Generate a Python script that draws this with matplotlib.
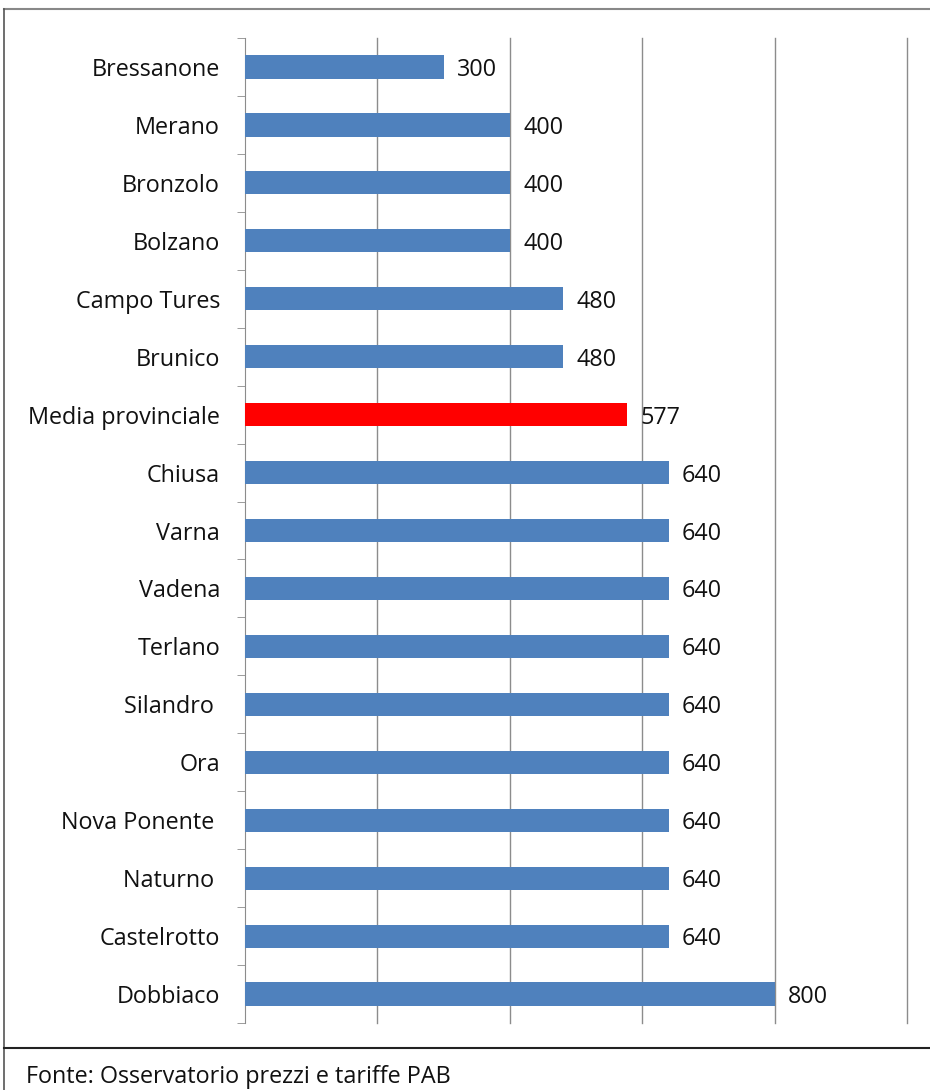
import matplotlib.pyplot as plt
from matplotlib.lines import Line2D
import numpy as np

plt.rcParams['font.family'] = ['Open Sans', 'DejaVu Sans']

# data, top to bottom
comuni = ['Bressanone', 'Merano', 'Bronzolo', 'Bolzano', 'Campo Tures', 'Brunico',
          'Media provinciale', 'Chiusa', 'Varna', 'Vadena', 'Terlano', 'Silandro ',
          'Ora', 'Nova Ponente ', 'Naturno ', 'Castelrotto', 'Dobbiaco']
valori = [300, 400, 400, 400, 480, 480, 577, 640, 640, 640, 640, 640, 640, 640, 640, 640, 800]
media_label = 'Media provinciale'
fonte = 'Fonte: Osservatorio prezzi e tariffe PAB'

W, H = 930, 1090
fs = 16.8
fig = plt.figure(figsize=(W / 100, H / 100), dpi=100)
ax = fig.add_axes([245 / W, 1 - 1023 / H, (907 - 245) / W, (1023 - 38) / H])

y = np.arange(len(comuni))
colori = ['#FF0000' if c == media_label else '#4F81BD' for c in comuni]
ax.barh(y, valori, height=0.4, color=colori, zorder=3)
for yi, v in zip(y, valori):
    ax.text(v + 20, yi, str(v), va='center_baseline', ha='left', fontsize=fs, color='#111111')

ax.set_xlim(0, 1000)
ax.set_ylim(len(comuni) - 0.5, -0.5)
ax.set_xticks([200, 400, 600, 800, 1000])
ax.set_xticklabels([])
ax.tick_params(axis='x', length=0)
ax.grid(axis='x', color='#8c8c8c', linewidth=1, zorder=0)
for gl in ax.get_xgridlines():
    gl.set_clip_on(False)

# category labels and boundary ticks
ax.set_yticks(y)
ax.set_yticklabels(comuni, fontsize=fs, color='#111111')
ax.tick_params(axis='y', length=0, pad=18)
ax.set_yticks(np.arange(-0.5, len(comuni)), minor=True)
ax.tick_params(axis='y', which='minor', length=6, color='#8c8c8c', direction='out')

for s in ['top', 'right', 'bottom']:
    ax.spines[s].set_visible(False)
ax.spines['left'].set_color('#8c8c8c')

# chart border and source box
fig.add_artist(Line2D([4 / W, 1], [1 - 9 / H, 1 - 9 / H], color='#888888', lw=1.5))
fig.add_artist(Line2D([4 / W, 4 / W], [0, 1 - 9 / H], color='#555555', lw=1.2))
fig.add_artist(Line2D([4 / W, 1], [1 - 1048 / H, 1 - 1048 / H], color='#222222', lw=1.5))
fig.text(26 / W, 1 - 1077 / H, fonte, fontsize=fs, va='center', ha='left', color='#111111')

fig.savefig('out.png', dpi=100)
